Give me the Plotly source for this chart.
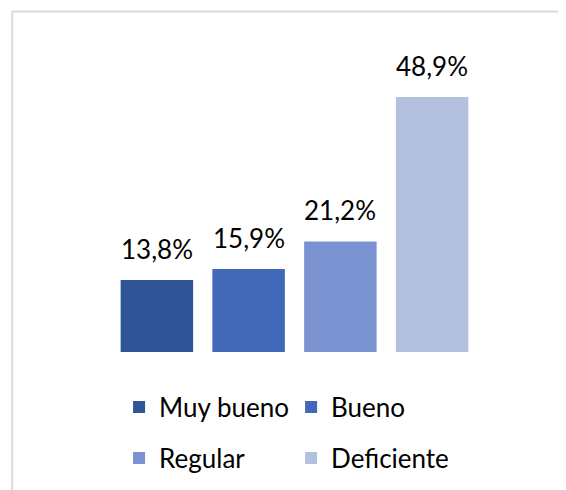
import plotly.graph_objects as go

categories = ["Muy bueno", "Bueno", "Regular", "Deficiente"]
values = [13.8, 15.9, 21.2, 48.9]
labels = ["13,8%", "15,9%", "21,2%", "48,9%"]
colors = ["#2F5597", "#4169B8", "#7A93D0", "#B4C0E0"]
legend_ids = ["legend", "legend", "legend2", "legend2"]

FONT = "Lato, Calibri, Carlito, sans-serif"

fig = go.Figure()
for i, (cat, val, col, lg) in enumerate(zip(categories, values, colors, legend_ids)):
    fig.add_trace(go.Bar(
        x=[i], y=[val], name=cat, marker=dict(color=col, line=dict(width=0)),
        width=0.79, legend=lg, hoverinfo="skip",
    ))
    fig.add_annotation(
        x=i, y=val, text=labels[i], showarrow=False, yanchor="bottom",
        yshift=13, font=dict(family=FONT, size=26, color="#000000"),
    )

# outer chart border
fig.add_shape(type="rect", xref="paper", yref="paper",
              x0=-0.269, x1=1.25, y0=-0.46, y1=1.088,
              line=dict(color="#D9D9D9", width=2), fillcolor="rgba(0,0,0,0)", layer="below")

legend_common = dict(orientation="h", xanchor="left", yanchor="middle",
                     entrywidth=127, entrywidthmode="pixels", traceorder="normal",
                     font=dict(family=FONT, size=26, color="#000000"),
                     bgcolor="rgba(0,0,0,0)")

fig.update_layout(
    width=566, height=490,
    margin=dict(l=102.5, r=95.5, t=31, b=146, autoexpand=False),
    paper_bgcolor="white", plot_bgcolor="white",
    barmode="overlay",
    showlegend=True,
    xaxis=dict(range=[-0.5, 3.5], visible=False, fixedrange=True),
    yaxis=dict(range=[0, 60], visible=False, fixedrange=True),
    legend=dict(x=0.022, y=-0.176, **legend_common),
    legend2=dict(x=0.022, y=-0.339, **legend_common),
)

fig.write_html("out.html")
